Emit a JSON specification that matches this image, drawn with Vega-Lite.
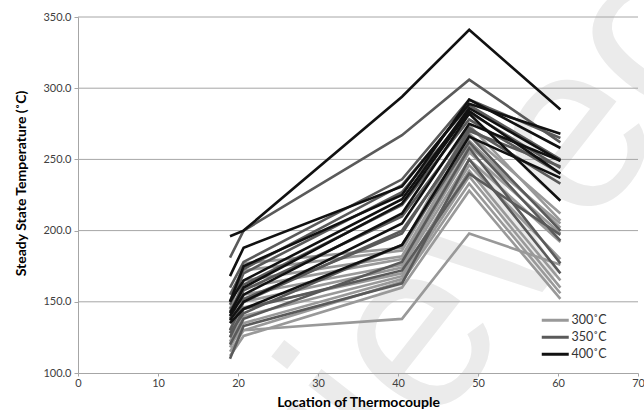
{
  "$schema": "https://vega.github.io/schema/vega-lite/v6.json",
  "width": 560,
  "height": 356,
  "autosize": {"type": "none"},
  "padding": {"left": 78, "top": 17, "right": 6, "bottom": 37},
  "background": "white",
  "config": {
    "view": {"stroke": null},
    "font": "Lato",
    "axis": {
      "labelFont": "Lato",
      "labelFontSize": 11,
      "labelColor": "#404040",
      "titleFont": "Lato",
      "titleFontSize": 14,
      "titleFontWeight": "bold",
      "titleColor": "#000000",
      "domainColor": "#a6a6a6",
      "tickColor": "#a6a6a6",
      "domainWidth": 1
    }
  },
  "datasets": {
    "temps": [
      {"s": "g12", "T": "300˚C", "x": 19, "y": 121}, {"s": "g12", "T": "300˚C", "x": 20.7, "y": 130}, {"s": "g12", "T": "300˚C", "x": 40.5, "y": 138}, {"s": "g12", "T": "300˚C", "x": 48.9, "y": 198}, {"s": "g12", "T": "300˚C", "x": 60.3, "y": 176},
      {"s": "g1", "T": "300˚C", "x": 19, "y": 150}, {"s": "g1", "T": "300˚C", "x": 20.7, "y": 177}, {"s": "g1", "T": "300˚C", "x": 40.5, "y": 188}, {"s": "g1", "T": "300˚C", "x": 48.9, "y": 274}, {"s": "g1", "T": "300˚C", "x": 60.3, "y": 207},
      {"s": "g2", "T": "300˚C", "x": 19, "y": 145}, {"s": "g2", "T": "300˚C", "x": 20.7, "y": 172}, {"s": "g2", "T": "300˚C", "x": 40.5, "y": 186}, {"s": "g2", "T": "300˚C", "x": 48.9, "y": 268}, {"s": "g2", "T": "300˚C", "x": 60.3, "y": 212},
      {"s": "g3", "T": "300˚C", "x": 19, "y": 140}, {"s": "g3", "T": "300˚C", "x": 20.7, "y": 165}, {"s": "g3", "T": "300˚C", "x": 40.5, "y": 182}, {"s": "g3", "T": "300˚C", "x": 48.9, "y": 263}, {"s": "g3", "T": "300˚C", "x": 60.3, "y": 202},
      {"s": "g4", "T": "300˚C", "x": 19, "y": 135}, {"s": "g4", "T": "300˚C", "x": 20.7, "y": 160}, {"s": "g4", "T": "300˚C", "x": 40.5, "y": 180}, {"s": "g4", "T": "300˚C", "x": 48.9, "y": 259}, {"s": "g4", "T": "300˚C", "x": 60.3, "y": 205},
      {"s": "g5", "T": "300˚C", "x": 19, "y": 130}, {"s": "g5", "T": "300˚C", "x": 20.7, "y": 155}, {"s": "g5", "T": "300˚C", "x": 40.5, "y": 176}, {"s": "g5", "T": "300˚C", "x": 48.9, "y": 255}, {"s": "g5", "T": "300˚C", "x": 60.3, "y": 198},
      {"s": "g6", "T": "300˚C", "x": 19, "y": 128}, {"s": "g6", "T": "300˚C", "x": 20.7, "y": 150}, {"s": "g6", "T": "300˚C", "x": 40.5, "y": 174}, {"s": "g6", "T": "300˚C", "x": 48.9, "y": 250}, {"s": "g6", "T": "300˚C", "x": 60.3, "y": 192},
      {"s": "g7", "T": "300˚C", "x": 19, "y": 125}, {"s": "g7", "T": "300˚C", "x": 20.7, "y": 146}, {"s": "g7", "T": "300˚C", "x": 40.5, "y": 170}, {"s": "g7", "T": "300˚C", "x": 48.9, "y": 246}, {"s": "g7", "T": "300˚C", "x": 60.3, "y": 180},
      {"s": "g8", "T": "300˚C", "x": 19, "y": 122}, {"s": "g8", "T": "300˚C", "x": 20.7, "y": 140}, {"s": "g8", "T": "300˚C", "x": 40.5, "y": 168}, {"s": "g8", "T": "300˚C", "x": 48.9, "y": 242}, {"s": "g8", "T": "300˚C", "x": 60.3, "y": 165},
      {"s": "g9", "T": "300˚C", "x": 19, "y": 118}, {"s": "g9", "T": "300˚C", "x": 20.7, "y": 135}, {"s": "g9", "T": "300˚C", "x": 40.5, "y": 166}, {"s": "g9", "T": "300˚C", "x": 48.9, "y": 238}, {"s": "g9", "T": "300˚C", "x": 60.3, "y": 160},
      {"s": "g10", "T": "300˚C", "x": 19, "y": 115}, {"s": "g10", "T": "300˚C", "x": 20.7, "y": 130}, {"s": "g10", "T": "300˚C", "x": 40.5, "y": 164}, {"s": "g10", "T": "300˚C", "x": 48.9, "y": 233}, {"s": "g10", "T": "300˚C", "x": 60.3, "y": 156},
      {"s": "g11", "T": "300˚C", "x": 19, "y": 112}, {"s": "g11", "T": "300˚C", "x": 20.7, "y": 126}, {"s": "g11", "T": "300˚C", "x": 40.5, "y": 160}, {"s": "g11", "T": "300˚C", "x": 48.9, "y": 228}, {"s": "g11", "T": "300˚C", "x": 60.3, "y": 152},
      {"s": "d1", "T": "350˚C", "x": 19, "y": 181}, {"s": "d1", "T": "350˚C", "x": 20.7, "y": 200}, {"s": "d1", "T": "350˚C", "x": 40.5, "y": 267}, {"s": "d1", "T": "350˚C", "x": 48.9, "y": 306}, {"s": "d1", "T": "350˚C", "x": 60.3, "y": 262},
      {"s": "d2", "T": "350˚C", "x": 19, "y": 160}, {"s": "d2", "T": "350˚C", "x": 20.7, "y": 178}, {"s": "d2", "T": "350˚C", "x": 40.5, "y": 236}, {"s": "d2", "T": "350˚C", "x": 48.9, "y": 292}, {"s": "d2", "T": "350˚C", "x": 60.3, "y": 265},
      {"s": "d3", "T": "350˚C", "x": 19, "y": 155}, {"s": "d3", "T": "350˚C", "x": 20.7, "y": 173}, {"s": "d3", "T": "350˚C", "x": 40.5, "y": 232}, {"s": "d3", "T": "350˚C", "x": 48.9, "y": 288}, {"s": "d3", "T": "350˚C", "x": 60.3, "y": 250},
      {"s": "d4", "T": "350˚C", "x": 19, "y": 148}, {"s": "d4", "T": "350˚C", "x": 20.7, "y": 170}, {"s": "d4", "T": "350˚C", "x": 40.5, "y": 227}, {"s": "d4", "T": "350˚C", "x": 48.9, "y": 283}, {"s": "d4", "T": "350˚C", "x": 60.3, "y": 244},
      {"s": "d5", "T": "350˚C", "x": 19, "y": 143}, {"s": "d5", "T": "350˚C", "x": 20.7, "y": 162}, {"s": "d5", "T": "350˚C", "x": 40.5, "y": 218}, {"s": "d5", "T": "350˚C", "x": 48.9, "y": 278}, {"s": "d5", "T": "350˚C", "x": 60.3, "y": 240},
      {"s": "d6", "T": "350˚C", "x": 19, "y": 138}, {"s": "d6", "T": "350˚C", "x": 20.7, "y": 158}, {"s": "d6", "T": "350˚C", "x": 40.5, "y": 210}, {"s": "d6", "T": "350˚C", "x": 48.9, "y": 272}, {"s": "d6", "T": "350˚C", "x": 60.3, "y": 233},
      {"s": "d7", "T": "350˚C", "x": 19, "y": 130}, {"s": "d7", "T": "350˚C", "x": 20.7, "y": 150}, {"s": "d7", "T": "350˚C", "x": 40.5, "y": 200}, {"s": "d7", "T": "350˚C", "x": 48.9, "y": 267}, {"s": "d7", "T": "350˚C", "x": 60.3, "y": 200},
      {"s": "d8", "T": "350˚C", "x": 19, "y": 128}, {"s": "d8", "T": "350˚C", "x": 20.7, "y": 142}, {"s": "d8", "T": "350˚C", "x": 40.5, "y": 190}, {"s": "d8", "T": "350˚C", "x": 48.9, "y": 262}, {"s": "d8", "T": "350˚C", "x": 60.3, "y": 193},
      {"s": "d9", "T": "350˚C", "x": 19, "y": 120}, {"s": "d9", "T": "350˚C", "x": 20.7, "y": 138}, {"s": "d9", "T": "350˚C", "x": 40.5, "y": 178}, {"s": "d9", "T": "350˚C", "x": 48.9, "y": 258}, {"s": "d9", "T": "350˚C", "x": 60.3, "y": 177},
      {"s": "d10", "T": "350˚C", "x": 19, "y": 110}, {"s": "d10", "T": "350˚C", "x": 20.7, "y": 133}, {"s": "d10", "T": "350˚C", "x": 40.5, "y": 163}, {"s": "d10", "T": "350˚C", "x": 48.9, "y": 250}, {"s": "d10", "T": "350˚C", "x": 60.3, "y": 170},
      {"s": "d11", "T": "350˚C", "x": 19, "y": 125}, {"s": "d11", "T": "350˚C", "x": 20.7, "y": 145}, {"s": "d11", "T": "350˚C", "x": 40.5, "y": 172}, {"s": "d11", "T": "350˚C", "x": 48.9, "y": 240}, {"s": "d11", "T": "350˚C", "x": 60.3, "y": 197},
      {"s": "d12", "T": "350˚C", "x": 19, "y": 145}, {"s": "d12", "T": "350˚C", "x": 20.7, "y": 152}, {"s": "d12", "T": "350˚C", "x": 40.5, "y": 198}, {"s": "d12", "T": "350˚C", "x": 48.9, "y": 270}, {"s": "d12", "T": "350˚C", "x": 60.3, "y": 245},
      {"s": "b1", "T": "400˚C", "x": 19, "y": 196}, {"s": "b1", "T": "400˚C", "x": 20.7, "y": 200}, {"s": "b1", "T": "400˚C", "x": 40.5, "y": 294}, {"s": "b1", "T": "400˚C", "x": 48.9, "y": 341}, {"s": "b1", "T": "400˚C", "x": 60.3, "y": 285},
      {"s": "b2", "T": "400˚C", "x": 19, "y": 168}, {"s": "b2", "T": "400˚C", "x": 20.7, "y": 188}, {"s": "b2", "T": "400˚C", "x": 40.5, "y": 231}, {"s": "b2", "T": "400˚C", "x": 48.9, "y": 289}, {"s": "b2", "T": "400˚C", "x": 60.3, "y": 268},
      {"s": "b3", "T": "400˚C", "x": 19, "y": 150}, {"s": "b3", "T": "400˚C", "x": 20.7, "y": 165}, {"s": "b3", "T": "400˚C", "x": 40.5, "y": 222}, {"s": "b3", "T": "400˚C", "x": 48.9, "y": 286}, {"s": "b3", "T": "400˚C", "x": 60.3, "y": 249},
      {"s": "b4", "T": "400˚C", "x": 19, "y": 142}, {"s": "b4", "T": "400˚C", "x": 20.7, "y": 160}, {"s": "b4", "T": "400˚C", "x": 40.5, "y": 219}, {"s": "b4", "T": "400˚C", "x": 48.9, "y": 284}, {"s": "b4", "T": "400˚C", "x": 60.3, "y": 240},
      {"s": "b5", "T": "400˚C", "x": 19, "y": 140}, {"s": "b5", "T": "400˚C", "x": 20.7, "y": 155}, {"s": "b5", "T": "400˚C", "x": 40.5, "y": 212}, {"s": "b5", "T": "400˚C", "x": 48.9, "y": 282}, {"s": "b5", "T": "400˚C", "x": 60.3, "y": 221},
      {"s": "b6", "T": "400˚C", "x": 19, "y": 137}, {"s": "b6", "T": "400˚C", "x": 20.7, "y": 150}, {"s": "b6", "T": "400˚C", "x": 40.5, "y": 205}, {"s": "b6", "T": "400˚C", "x": 48.9, "y": 275}, {"s": "b6", "T": "400˚C", "x": 60.3, "y": 249},
      {"s": "b8", "T": "400˚C", "x": 19, "y": 135}, {"s": "b8", "T": "400˚C", "x": 20.7, "y": 145}, {"s": "b8", "T": "400˚C", "x": 40.5, "y": 190}, {"s": "b8", "T": "400˚C", "x": 48.9, "y": 266}, {"s": "b8", "T": "400˚C", "x": 60.3, "y": 237},
      {"s": "b9", "T": "400˚C", "x": 19, "y": 150}, {"s": "b9", "T": "400˚C", "x": 20.7, "y": 175}, {"s": "b9", "T": "400˚C", "x": 40.5, "y": 225}, {"s": "b9", "T": "400˚C", "x": 48.9, "y": 292}, {"s": "b9", "T": "400˚C", "x": 60.3, "y": 258}
    ],
    "gridlines": [{"v": 150}, {"v": 200}, {"v": 250}, {"v": 300}, {"v": 350}],
    "watermark": [{"label": "Retrieved"}]
  },
  "layer": [
    {
      "data": {"name": "watermark"},
      "mark": {"type": "text", "angle": -52, "fontSize": 240, "font": "Liberation Sans", "color": "#ebebeb", "align": "center", "baseline": "middle"},
      "encoding": {
        "text": {"field": "label"},
        "x": {"datum": 37.6, "type": "quantitative"},
        "y": {"datum": 92, "type": "quantitative"}
      }
    },
    {
      "data": {"name": "gridlines"},
      "mark": {"type": "rule", "color": "#a6a6a6", "strokeWidth": 1},
      "encoding": {
        "y": {"field": "v", "type": "quantitative"}
      }
    },
    {
      "data": {"name": "temps"},
      "mark": {"type": "line", "strokeWidth": 2.6, "strokeJoin": "miter"},
      "encoding": {
        "x": {
          "field": "x", "type": "quantitative",
          "scale": {"domain": [0, 70], "nice": false, "zero": false},
          "axis": {"title": "Location of Thermocouple", "values": [0, 10, 20, 30, 40, 50, 60, 70], "grid": false, "tickSize": 3, "labelPadding": 1, "titlePadding": 7, "labelFlush": false, "zindex": 1}
        },
        "y": {
          "field": "y", "type": "quantitative",
          "scale": {"domain": [100, 350], "nice": false, "zero": false},
          "axis": {"title": "Steady State Temperature (˚C)", "values": [100, 150, 200, 250, 300, 350], "format": ".1f", "grid": false, "tickSize": 4, "labelPadding": 3, "titlePadding": 14, "titleY": 166, "zindex": 1}
        },
        "color": {
          "field": "T", "type": "nominal",
          "scale": {"domain": ["300˚C", "350˚C", "400˚C"], "range": ["#999999", "#5a5a5a", "#111111"]},
          "legend": {
            "title": null, "orient": "none", "legendX": 471, "legendY": 297, "padding": 0,
            "symbolType": "M-3,0H3", "symbolSize": 81, "symbolStrokeWidth": 3,
            "labelFont": "Lato", "labelFontSize": 12.5, "labelColor": "#333333", "labelOffset": 10,
            "rowPadding": 4
          }
        },
        "detail": {"field": "s"}
      }
    }
  ]
}
